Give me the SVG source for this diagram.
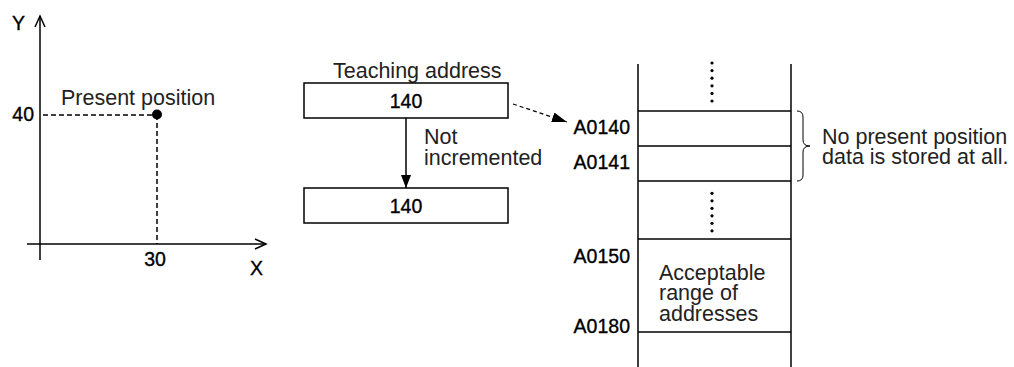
<svg xmlns="http://www.w3.org/2000/svg" width="1014" height="367" viewBox="0 0 1014 367">
<style>
.t{font-family:"Liberation Sans",Arial,sans-serif;font-size:21.5px;fill:#222}
.n{font-family:"Liberation Sans",Arial,sans-serif;font-size:19.5px;fill:#000;stroke:#000;stroke-width:0.35}
.ln{stroke:#000;stroke-width:1.5;fill:none}
.dash{stroke:#000;stroke-width:1.5;fill:none;stroke-dasharray:5 3}
.box{stroke:#000;stroke-width:1.5;fill:#fff}
</style>
<defs>
<marker id="ah" markerWidth="14" markerHeight="10" refX="13" refY="5" orient="auto" markerUnits="userSpaceOnUse">
<path d="M0,0 L13,5 L0,10 Z" fill="#000"/>
</marker>
<marker id="ahd" markerWidth="16" markerHeight="10" refX="15" refY="5" orient="auto" markerUnits="userSpaceOnUse">
<path d="M0,0 L15,5 L0,10 Z" fill="#000"/>
</marker>
</defs>

<g id="graph">
<line class="ln" x1="40" y1="16" x2="40" y2="260"/>
<polyline class="ln" points="35,27 40,16 45,27"/>
<line class="ln" x1="27" y1="244" x2="266" y2="244"/>
<polyline class="ln" points="255,239 266,244 255,249"/>
<text class="n" x="12" y="30">Y</text>
<text class="n" x="250" y="275">X</text>
<text class="n" x="34" y="121" text-anchor="end">40</text>
<text class="n" x="155" y="266" text-anchor="middle">30</text>
<line class="dash" x1="43" y1="115" x2="157" y2="115"/>
<line class="dash" x1="157" y1="115" x2="157" y2="244"/>
<circle cx="157" cy="114.5" r="5" fill="#000"/>
<text class="t" x="61" y="105">Present position</text>
</g>

<g id="teaching">
<text class="t" x="333" y="78">Teaching address</text>
<rect class="box" x="304" y="83" width="204" height="35"/>
<text class="n" x="406" y="108" text-anchor="middle">140</text>
</g>

<g id="result">
<rect class="box" x="304" y="188" width="204" height="35"/>
<text class="n" x="406" y="213" text-anchor="middle">140</text>
</g>

<g id="connectors">
<line class="ln" x1="406" y1="118" x2="406" y2="188" marker-end="url(#ah)"/>
<line x1="513" y1="104" x2="567" y2="122" stroke="#000" stroke-width="1.2" stroke-dasharray="4 3" marker-end="url(#ahd)"/>
<text class="t" x="424" y="144">Not</text>
<text class="t" x="424" y="165">incremented</text>
</g>

<g id="memory">
<line class="ln" x1="638" y1="64" x2="638" y2="367"/>
<line class="ln" x1="791" y1="64" x2="791" y2="367"/>
<line class="ln" x1="638" y1="111" x2="791" y2="111"/>
<line class="ln" x1="638" y1="146" x2="791" y2="146"/>
<line class="ln" x1="638" y1="181" x2="791" y2="181"/>
<line class="ln" x1="638" y1="239" x2="791" y2="239"/>
<line class="ln" x1="638" y1="332" x2="791" y2="332"/>
<g fill="#000">
<circle cx="712" cy="63" r="1.6"/><circle cx="712" cy="70.6" r="1.6"/><circle cx="712" cy="78.2" r="1.6"/>
<circle cx="712" cy="85.8" r="1.6"/><circle cx="712" cy="93.4" r="1.6"/><circle cx="712" cy="101" r="1.6"/>
<circle cx="712" cy="193.3" r="1.6"/><circle cx="712" cy="200.8" r="1.6"/><circle cx="712" cy="208.3" r="1.6"/>
<circle cx="712" cy="215.8" r="1.6"/><circle cx="712" cy="223.3" r="1.6"/><circle cx="712" cy="230.8" r="1.6"/>
</g>
<text class="n" x="630" y="134" text-anchor="end">A0140</text>
<text class="n" x="630" y="169" text-anchor="end">A0141</text>
<text class="n" x="630" y="263" text-anchor="end">A0150</text>
<text class="n" x="630" y="333" text-anchor="end">A0180</text>
<text class="t" x="659" y="280">Acceptable</text>
<text class="t" x="659" y="300">range of</text>
<text class="t" x="659" y="321">addresses</text>
</g>

<g id="note">
<path d="M797,111 Q803,111 803,117 L803,140 Q803,146 810,146 Q803,146 803,152 L803,175 Q803,181 797,181" stroke="#000" stroke-width="1" fill="none"/>
<text class="t" x="822" y="144">No present position</text>
<text class="t" x="822" y="164">data is stored at all.</text>
</g>
</svg>
